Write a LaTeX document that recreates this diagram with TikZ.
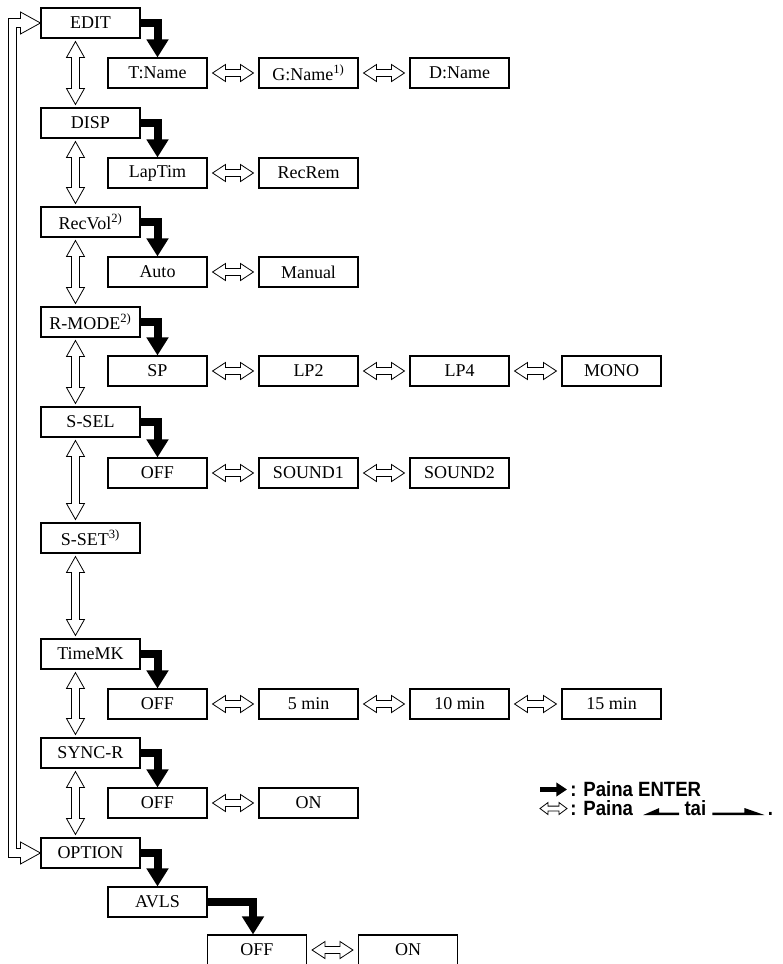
\documentclass[tikz,border=0pt]{standalone}
\usepackage{fontspec}
\setmainfont{Liberation Serif}
\newfontfamily\legfont[FakeStretch=0.9]{Liberation Sans}
\usetikzlibrary{calc,arrows.meta}
% open double arrows (outline)
\newcommand\hdarr[2]{\draw[outl] let \p1=#1, \p2=#2 in (\x1,\y1) -- (\x1+9.75pt,\y1+6.4pt) -- (\x1+9.75pt,\y1+2.6pt) -- (\x2-9.75pt,\y1+2.6pt) -- (\x2-9.75pt,\y1+6.4pt) -- (\x2,\y1) -- (\x2-9.75pt,\y1-6.4pt) -- (\x2-9.75pt,\y1-2.6pt) -- (\x1+9.75pt,\y1-2.6pt) -- (\x1+9.75pt,\y1-6.4pt) -- cycle;}
\newcommand\ldarr[2]{\draw[outl] let \p1=#1, \p2=#2 in (\x1,\y1) -- (\x1+6pt,\y1+4.5pt) -- (\x1+6pt,\y1+1.8pt) -- (\x2-6pt,\y1+1.8pt) -- (\x2-6pt,\y1+4.5pt) -- (\x2,\y1) -- (\x2-6pt,\y1-4.5pt) -- (\x2-6pt,\y1-1.8pt) -- (\x1+6pt,\y1-1.8pt) -- (\x1+6pt,\y1-4.5pt) -- cycle;}
\newcommand\vdarr[2]{\draw[outl] let \p1=#1, \p2=#2 in (\x1,\y1) -- (\x1+6.75pt,\y1-12pt) -- (\x1+3pt,\y1-12pt) -- (\x1+3pt,\y2+12pt) -- (\x1+6.75pt,\y2+12pt) -- (\x1,\y2) -- (\x1-6.75pt,\y2+12pt) -- (\x1-3pt,\y2+12pt) -- (\x1-3pt,\y1-12pt) -- (\x1-6.75pt,\y1-12pt) -- cycle;}
\begin{document}
\begin{tikzpicture}[x=0.75pt,y=-0.75pt,
  box/.style={draw, line width=0.8pt, minimum width=74.25pt, minimum height=22.5pt, inner sep=0pt, font=\fontsize{13.5}{16}\selectfont},
  enter/.style={line width=6pt, line join=miter, -{Triangle[width=15.75pt,length=13.5pt]}},
  outl/.style={draw, line width=0.6pt, line join=miter},
  lg/.style={font=\legfont\bfseries\fontsize{15.5}{18}\selectfont, inner sep=0pt}
]
\useasboundingbox (0,0) rectangle (782,964);

% main column
\node[box] (edit)   at (90.5,23)  {EDIT};
\node[box] (disp)   at (90.5,123) {DISP};
\node[box] (recvol) at (90.5,222) {RecVol\textsuperscript{2)}};
\node[box] (rmode)  at (90.5,322) {R-MODE\textsuperscript{2)}};
\node[box] (ssel)   at (90.5,422) {S-SEL};
\node[box] (sset)   at (90.5,538) {S-SET\textsuperscript{3)}};
\node[box] (timemk) at (90.5,654) {TimeMK};
\node[box] (syncr)  at (90.5,753) {SYNC-R};
\node[box] (option) at (90.5,853) {OPTION};

% sub rows
\node[box] (tname) at (157.5,73) {T:Name};
\node[box] (gname) at (308.5,73) {G:Name\textsuperscript{1)}};
\node[box] (dname) at (459.5,73) {D:Name};

\node[box] (laptim) at (157.5,173) {LapTim};
\node[box] (recrem) at (308.5,173) {RecRem};

\node[box] (auto)   at (157.5,272) {Auto};
\node[box] (manual) at (308.5,272) {Manual};

\node[box] (sp)     at (157.5,371) {SP};
\node[box] (lptwo)  at (308.5,371) {LP2};
\node[box] (lpfour) at (459.5,371) {LP4};
\node[box] (mono)   at (611.5,371) {MONO};

\node[box] (sseloff) at (157.5,473) {OFF};
\node[box] (soundone) at (308.5,473) {SOUND1};
\node[box] (soundtwo) at (459.5,473) {SOUND2};

\node[box] (tmoff)  at (157.5,704) {OFF};
\node[box] (minfive) at (308.5,704) {5 min};
\node[box] (minten) at (459.5,704) {10 min};
\node[box] (minfifteen) at (611.5,704) {15 min};

\node[box] (syoff) at (157.5,803) {OFF};
\node[box] (syon)  at (308.5,803) {ON};

\node[box] (avls)  at (157.5,902) {AVLS};
\node[box] (avoff) at (257,950) {OFF};
\node[box] (avon)  at (408,950) {ON};

% ENTER arrows
\draw[enter] (edit.east) -| (tname.north);
\draw[enter] (disp.east) -| (laptim.north);
\draw[enter] (recvol.east) -| (auto.north);
\draw[enter] (rmode.east) -| (sp.north);
\draw[enter] (ssel.east) -| (sseloff.north);
\draw[enter] (timemk.east) -| (tmoff.north);
\draw[enter] (syncr.east) -| (syoff.north);
\draw[enter] (option.east) -| (avls.north);
\coordinate (avin) at ($(avoff.north)+(-4,0)$);
\draw[enter] (avls.east) -| (avin);

% vertical double arrows
\foreach \a/\b in {edit/disp,disp/recvol,recvol/rmode,rmode/ssel,ssel/sset,sset/timemk,timemk/syncr,syncr/option}{
  \vdarr{($(\a.south west)+(35,3)$)}{($(\b.north west)+(35,-3)$)}
}

% horizontal double arrows
\foreach \a/\b in {tname/gname,gname/dname,laptim/recrem,auto/manual,sp/lptwo,lptwo/lpfour,lpfour/mono,sseloff/soundone,soundone/soundtwo,tmoff/minfive,minfive/minten,minten/minfifteen,syoff/syon,avoff/avon}{
  \hdarr{($(\a.east)+(5,0)$)}{($(\b.west)+(-5,0)$)}
}

% return arrow OPTION -> EDIT
\draw[outl] (edit.west) -- ($(edit.west)+(-20,-11)$) -- ($(edit.west)+(-20,-4.5)$) -- ($(edit.west)+(-32,-4.5)$)
  -- ($(option.west)+(-32,4.5)$) -- ($(option.west)+(-20,4.5)$) -- ($(option.west)+(-20,11)$) -- (option.west)
  -- ($(option.west)+(-20,-11)$) -- ($(option.west)+(-20,-4.5)$) -- ($(option.west)+(-24,-4.5)$)
  -- ($(edit.west)+(-24,4.5)$) -- ($(edit.west)+(-20,4.5)$) -- ($(edit.west)+(-20,11)$) -- cycle;

% legend
\node[lg, anchor=base west] (lgone) at (570,796) {: Paina ENTER};
\coordinate (lgarrs) at ($(lgone.base west)+(-30,-6.5)$);
\coordinate (lgarre) at ($(lgone.base west)+(-3,-6.5)$);
\draw[line width=3.2pt, -{Triangle[width=10pt,length=8pt]}] (lgarrs) -- (lgarre);

\node[lg, anchor=base west] (lgtwo) at (570,815) {: Paina};
\ldarr{($(lgtwo.base west)+(-30,-6.5)$)}{($(lgtwo.base west)+(-3,-6.5)$)}
\coordinate (lha) at ($(lgtwo.base east)+(10,0)$);
\coordinate (lhb) at ($(lgtwo.base east)+(46,0)$);
\fill (lha) -- ($(lha)+(16,-7)$) -- ($(lha)+(16,-2.5)$) -- ($(lhb)+(0,-2.5)$) -- (lhb) -- cycle;
\node[lg, anchor=base west] (lgtai) at ($(lhb)+(5,0)$) {tai};
\coordinate (rha) at ($(lgtai.base east)+(6,0)$);
\coordinate (rhb) at ($(lgtai.base east)+(58,0)$);
\fill (rhb) -- ($(rhb)+(-20,-7)$) -- ($(rhb)+(-20,-2.5)$) -- ($(rha)+(0,-2.5)$) -- (rha) -- cycle;
\node[lg, anchor=base west] (lgdot) at ($(rhb)+(3,0)$) {.};
\end{tikzpicture}
\end{document}
